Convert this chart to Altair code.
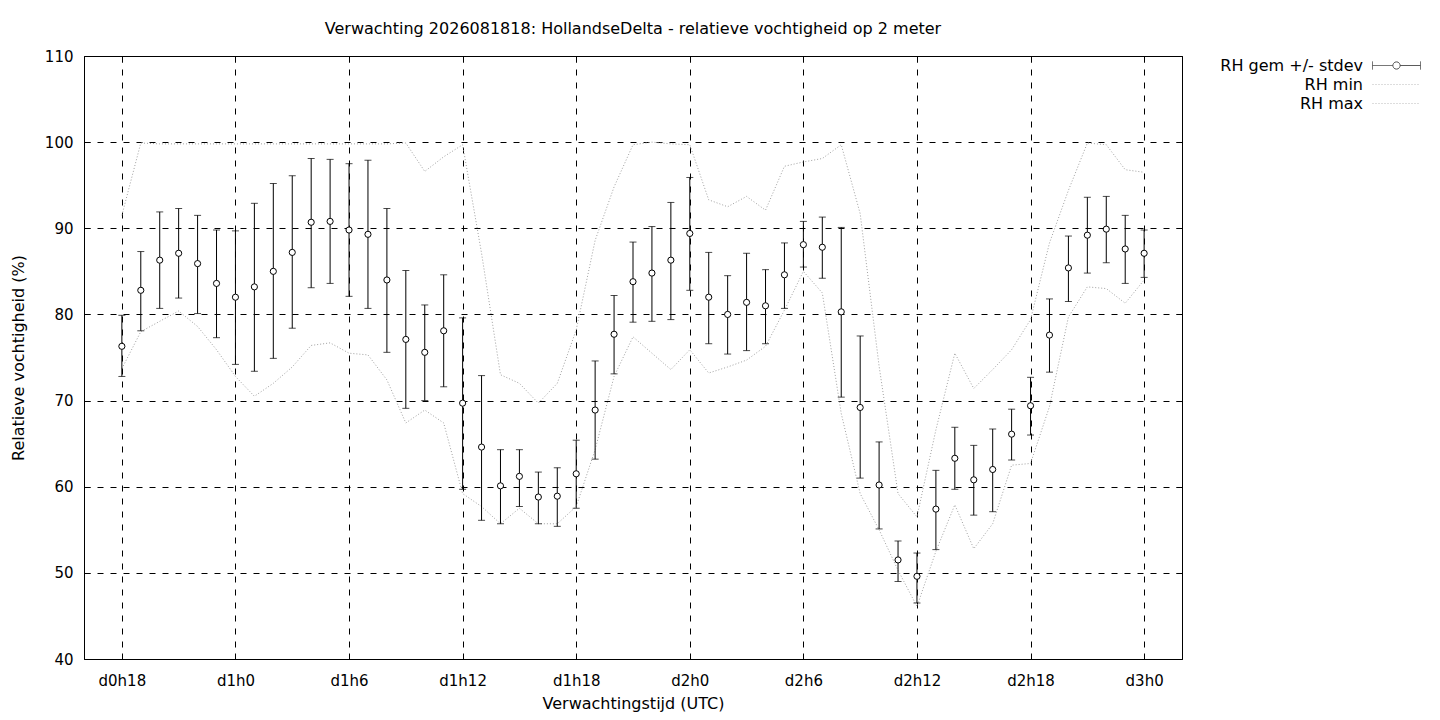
import altair as alt
import pandas as pd

# forecast hours (0 = d0h0)
hours = list(range(18, 73))

rh_mean = [76.3, 82.8, 86.3, 87.1, 85.9, 83.6, 82.0, 83.2, 85.0, 87.2,
           90.7, 90.8, 89.8, 89.3, 84.0, 77.1, 75.6, 78.1, 69.7, 64.6,
           60.1, 61.2, 58.8, 58.9, 61.5, 68.9, 77.7, 83.8, 84.8, 86.3,
           89.4, 82.0, 80.0, 81.4, 81.0, 84.6, 88.1, 87.8, 80.3, 69.2,
           60.2, 51.5, 49.6, 57.4, 63.3, 60.8, 62.0, 66.1, 69.4, 77.6,
           85.4, 89.2, 89.9, 87.6, 87.1]

rh_low = [72.8, 78.1, 80.7, 81.9, 80.1, 77.3, 74.2, 73.4, 74.9, 78.4,
          83.1, 83.6, 82.1, 80.7, 75.6, 69.1, 70.0, 71.6, 59.7, 56.1,
          55.7, 57.7, 55.7, 55.4, 57.5, 63.2, 73.1, 79.1, 79.2, 79.4,
          82.8, 76.6, 75.4, 75.8, 76.6, 80.7, 85.5, 84.2, 70.4, 61.0,
          55.1, 49.0, 46.5, 52.7, 59.7, 56.7, 57.1, 63.1, 66.0, 73.3,
          81.5, 84.8, 86.0, 83.6, 84.3]

rh_high = [79.9, 87.3, 91.9, 92.3, 91.5, 89.8, 89.7, 92.9, 95.2, 96.1,
           98.1, 98.0, 97.5, 97.9, 92.3, 85.1, 81.1, 84.6, 79.6, 72.9,
           64.3, 64.3, 61.7, 62.2, 65.4, 74.6, 82.2, 88.4, 90.2, 93.0,
           95.9, 87.2, 84.5, 87.1, 85.2, 88.3, 90.8, 91.3, 90.1, 77.5,
           65.2, 53.7, 52.3, 61.9, 66.9, 64.8, 66.7, 69.0, 72.7, 81.8,
           89.1, 93.6, 93.7, 91.5, 89.8]

rh_min = [73.7, 78.0, 79.2, 80.4, 78.6, 75.9, 72.8, 70.5, 72.0, 73.9,
          76.4, 76.7, 75.5, 75.3, 72.4, 67.4, 68.9, 67.4, 59.2, 57.7,
          55.7, 57.5, 55.7, 55.7, 57.7, 64.3, 72.8, 77.4, 75.5, 73.6,
          75.9, 73.2, 73.9, 74.7, 76.3, 80.5, 85.0, 82.5, 68.5, 59.2,
          55.0, 50.3, 46.1, 52.5, 57.9, 52.8, 55.7, 62.5, 62.7, 69.3,
          79.7, 83.2, 83.0, 81.3, 84.0]

rh_max = [91.5, 99.9, 99.8, 99.8, 99.8, 99.8, 99.8, 99.8, 99.8, 99.8,
          99.8, 99.8, 99.8, 99.8, 99.8, 99.9, 96.6, 98.3, 99.7, 87.1,
          73.0, 72.0, 69.7, 72.0, 78.2, 88.6, 94.8, 99.7, 100.0, 99.8,
          99.7, 93.3, 92.5, 93.7, 92.1, 97.2, 97.7, 98.1, 99.7, 91.7,
          74.0, 59.2, 56.5, 66.6, 75.5, 71.4, 73.6, 75.9, 79.4, 88.3,
          94.4, 99.9, 99.7, 96.8, 96.5]

x_ticks = [18, 24, 30, 36, 42, 48, 54, 60, 66, 72]
y_ticks = [40, 50, 60, 70, 80, 90, 100, 110]
series = ["RH gem +/- stdev", "RH min", "RH max"]

df = pd.DataFrame({"uur": hours, "gem": rh_mean, "laag": rh_low,
                   "hoog": rh_high, "rhmin": rh_min, "rhmax": rh_max})

FONT = "DejaVu Sans"
GREY = "#a0a0a0"
W, H = 1098, 603
TICK = 6

x_axis = alt.Axis(values=x_ticks,
                  labelExpr="'d' + floor(datum.value / 24) + 'h' + (datum.value % 24)",
                  title="Verwachtingstijd (UTC)", grid=True, gridDash=[6, 7],
                  gridColor="black", gridOpacity=1, ticks=True, tickSize=0,
                  domain=True, domainColor="black",
                  labelPadding=14, labelFontSize=15, labelFont=FONT,
                  labelColor="black", titleFontSize=16, titleFont=FONT,
                  titleFontWeight="normal", titleColor="black",
                  titleY=44, titleBaseline="middle")
y_axis = alt.Axis(values=y_ticks, title="Relatieve vochtigheid (%)", grid=True,
                  gridDash=[6, 7], gridColor="black", gridOpacity=1,
                  ticks=True, tickSize=0, domain=True, domainColor="black",
                  labelPadding=11, labelFontSize=15,
                  labelFont=FONT, labelColor="black", titleFontSize=16,
                  titleFont=FONT, titleFontWeight="normal", titleColor="black",
                  titleX=-66, titleY=301.5, titleBaseline="middle")

xs = alt.Scale(domain=[16, 74], nice=False, zero=False)
ys = alt.Scale(domain=[40, 110], nice=False, zero=False)

def X():
    return alt.X("uur:Q", scale=xs, axis=x_axis)

def Y(field):
    return alt.Y(field, type="quantitative", scale=ys, axis=y_axis)

base = alt.Chart(df)

min_line = base.mark_line(color=GREY, strokeDash=[1, 2], strokeWidth=1).encode(
    x=X(), y=Y("rhmin"))
max_line = base.mark_line(color=GREY, strokeDash=[1, 2], strokeWidth=1).encode(
    x=X(), y=Y("rhmax"))
bars = base.mark_rule(color="black", strokeWidth=1).encode(
    x=X(), y=Y("laag"), y2="hoog")
cap_lo = base.mark_tick(orient="horizontal", size=7, thickness=1, color="black").encode(
    x=X(), y=Y("laag"))
cap_hi = base.mark_tick(orient="horizontal", size=7, thickness=1, color="black").encode(
    x=X(), y=Y("hoog"))
points = base.mark_point(shape="circle", filled=True, fill="white", stroke="black",
                         strokeWidth=1, size=38, opacity=1).encode(
    x=X(), y=Y("gem"))

err_path = ("M-3,0L-0.45,0M0.45,0L3,0M-3,-0.5L-3,0.5M3,-0.5L3,0.5"
            "M0.45,0A0.45,0.45,0,1,1,-0.45,0A0.45,0.45,0,1,1,0.45,0")
line_path = "M-3,0L3,0"

leg = alt.Legend(title=None, orient="none", legendX=1304, legendY=1,
                 labelAlign="right", labelOffset={"expr": "-42"}, labelFontSize=16,
                 labelFont=FONT, labelColor="black", symbolSize=256,
                 symbolStrokeWidth=1, padding=0, labelLimit=400, rowPadding=2)

legend_layer = alt.Chart(alt.Data(values=[{"serie": s} for s in series])).mark_point(
    filled=False, strokeWidth=1).encode(
    x=X(), y=Y("gem"),
    color=alt.Color("serie:N", scale=alt.Scale(domain=series, range=["black", GREY, GREY]), legend=leg),
    shape=alt.Shape("serie:N", scale=alt.Scale(domain=series, range=[err_path, line_path, line_path]), legend=leg),
    strokeDash=alt.StrokeDash("serie:N", scale=alt.Scale(domain=series, range=[[1, 0], [1, 2], [1, 2]]), legend=leg),
)

main = alt.layer(min_line, max_line, bars, cap_lo, cap_hi, points, legend_layer)

# frame: top/right border plus inward ticks on all four sides
def frame_axis(orient, values, offset, domain):
    return alt.Axis(orient=orient, values=values, offset=offset, labels=False,
                    grid=False, title=None, ticks=True, tickSize=TICK,
                    tickColor="black", domain=domain, domainColor="black")

frame_a = base.mark_point(opacity=0).encode(
    x=alt.X("uur:Q", scale=xs, axis=frame_axis("bottom", x_ticks, -H, True)),
    y=alt.Y("gem:Q", scale=ys, axis=frame_axis("left", y_ticks, -W, True)),
)
frame_b = base.mark_point(opacity=0).encode(
    x=alt.X("uur:Q", scale=xs, axis=frame_axis("top", x_ticks, -H, False)),
    y=alt.Y("gem:Q", scale=ys, axis=frame_axis("right", y_ticks, -W, False)),
)

chart = alt.layer(main, frame_a, frame_b).resolve_axis(
    x="independent", y="independent").properties(
    width=W, height=H,
    title=alt.TitleParams(
        text="Verwachting 2026081818: HollandseDelta - relatieve vochtigheid op 2 meter",
        font=FONT, fontSize=16, fontWeight="normal", color="black",
        anchor="middle", baseline="alphabetic", offset=0, dy=1),
    autosize=alt.AutoSizeParams(type="none"),
    padding={"left": 76, "top": 48, "right": 250, "bottom": 53},
).configure_view(stroke="transparent").configure(background="white")

chart.save("out.html", embed_options={"renderer": "svg", "actions": False})
